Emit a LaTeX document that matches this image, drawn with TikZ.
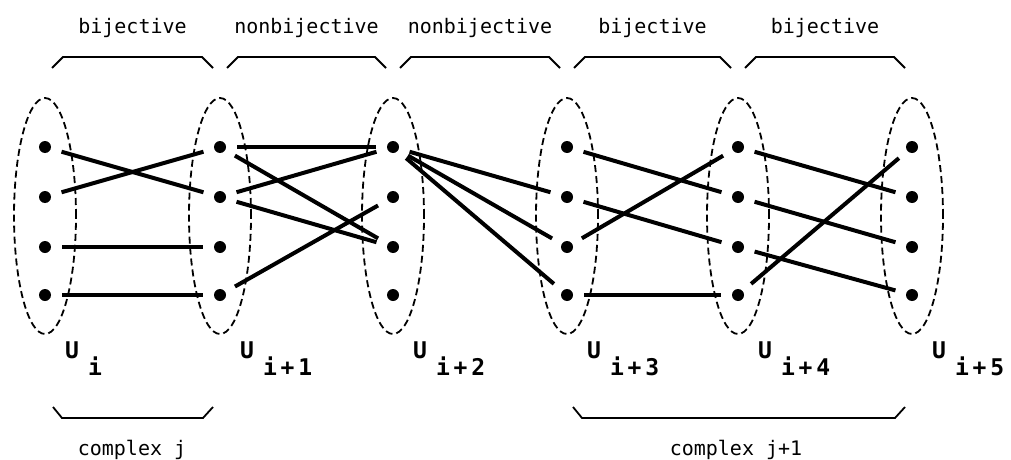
\documentclass[tikz,border=0pt]{standalone}
\usepackage{fontspec}
\setmonofont{DejaVu Sans Mono}
\usepackage{tikz}
\usetikzlibrary{shapes.geometric}

\tikzset{
  setoval/.style={ellipse, draw, dash pattern=on 7pt off 4pt, line width=1.8pt,
    minimum width=62pt, minimum height=236pt, inner sep=0pt},
  dot/.style={circle, fill, inner sep=0pt, minimum size=12pt},
  link/.style={line width=4pt, shorten <=11pt, shorten >=11pt},
  bracket/.style={line width=1.8pt},
  tag/.style={font=\ttfamily\fontsize{20}{24}\selectfont, anchor=base, inner sep=0pt},
  ulabel/.style={font=\ttfamily\bfseries\fontsize{23}{27}\selectfont, anchor=base west, inner sep=0pt}
}
\newcommand{\usub}[1]{U\hspace{9pt}\raisebox{-17pt}{#1}}

\begin{document}
\begin{tikzpicture}[x=1pt,y=-1pt]
  \useasboundingbox (0,0) rectangle (1011,460);
  % sets and their elements
  \foreach \c/\x in {1/45,2/220,3/393,4/567,5/738,6/912} {
    \node[setoval] (U\c) at (\x,216) {};
    \foreach \r/\y in {1/147,2/197,3/247,4/295}
      \node[dot] (u\c-\r) at (\x,\y) {};
  }
  \foreach \c/\x/\s in {1/45/i,2/220/i\,+\,1,3/393/i\,+\,2,4/567/i\,+\,3,5/738/i\,+\,4,6/912/i\,+\,5}
    \node[ulabel] (lab\c) at (\x+20,358) {\usub{\s}};

  % maps
  \foreach \a/\b in {1/2,2/1,3/3,4/4} \draw[link] (u1-\a) -- (u2-\b);
  \foreach \a/\b in {1/1,1/3,2/1,2/3,4/2} \draw[link] (u2-\a) -- (u3-\b);
  \foreach \b in {2,3,4} \draw[link] (u3-1) -- (u4-\b);
  \foreach \a/\b in {1/2,2/3,3/1,4/4} \draw[link] (u4-\a) -- (u5-\b);
  \foreach \a/\b in {1/2,2/3,3/4,4/1} \draw[link] (u5-\a) -- (u6-\b);

  % braces
  \foreach \xa/\xb/\t [count=\k] in {45/220/bijective,220/393/nonbijective,
      393/567/nonbijective,567/738/bijective,738/912/bijective} {
    \draw[bracket] (\xa+7,68) -- (\xa+18,57) -- (\xb-18,57) -- (\xb-7,68);
    \node[tag] (top\k) at ({(\xa+\xb)/2},34) {\t};
  }
  \draw[bracket] (53,407) -- (62,418) -- (203,418) -- (213,407);
  \node[tag] (cx1) at (132,455) {complex j};
  \draw[bracket] (573,407) -- (582,418) -- (895,418) -- (905,407);
  \node[tag] (cx2) at (736,455) {complex j+1};
\end{tikzpicture}
\end{document}
